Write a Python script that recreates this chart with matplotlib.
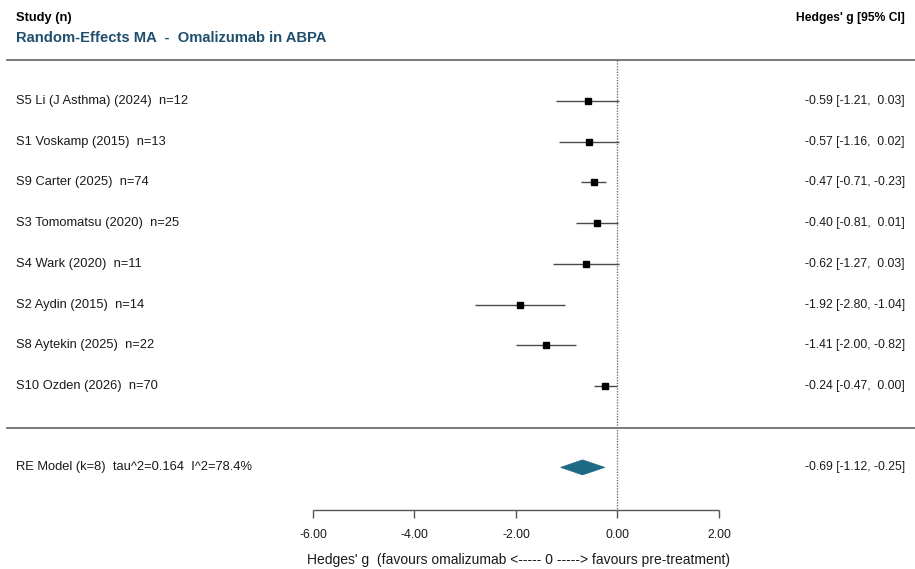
import matplotlib.pyplot as plt
import matplotlib.patches as mpatches

plt.rcParams['font.family'] = ['Liberation Sans', 'DejaVu Sans']

# Study data
studies = [
    "S5 Li (J Asthma) (2024)  n=12",
    "S1 Voskamp (2015)  n=13",
    "S9 Carter (2025)  n=74",
    "S3 Tomomatsu (2020)  n=25",
    "S4 Wark (2020)  n=11",
    "S2 Aydin (2015)  n=14",
    "S8 Aytekin (2025)  n=22",
    "S10 Ozden (2026)  n=70",
]
g = [-0.59, -0.57, -0.47, -0.40, -0.62, -1.92, -1.41, -0.24]
ci_low = [-1.21, -1.16, -0.71, -0.81, -1.27, -2.80, -2.00, -0.47]
ci_high = [0.03, 0.02, -0.23, 0.01, 0.03, -1.04, -0.82, 0.00]

# pooled random-effects estimate
re_label = "RE Model (k=8)  tau^2=0.164  I^2=78.4%"
re_g = -0.69
re_low = -1.12
re_high = -0.25

xticks = [-6, -4, -2, 0, 2]

TITLE_COLOR = "#1f4f6e"
DIAMOND_COLOR = "#1d6a87"
LINE_GREY = "#6e6e6e"
TXT = "#1a1a1a"


def fmt(v):
    return f"{v:5.2f}"


fig = plt.figure(figsize=(9.15, 5.69), dpi=100)
ax = fig.add_axes([0, 0, 1, 1])
ax.set_xlim(-12.167, 5.862)
ax.set_ylim(11.496, -2.481)
ax.axis('off')

# blended transform: x in axes fraction, y in rows
trans = ax.get_yaxis_transform()

# header
ax.text(0.0175, -2.04, "Study (n)", transform=trans, ha='left', va='center',
        fontsize=9.3, fontweight='bold', color='black')
ax.text(0.0175, -1.55, "Random-Effects MA  -  Omalizumab in ABPA", transform=trans,
        ha='left', va='center', fontsize=10.6, fontweight='bold', color=TITLE_COLOR)
ax.text(0.989, -2.04, "Hedges' g [95% CI]", transform=trans, ha='right', va='center',
        fontsize=8.7, fontweight='bold', color='black')

# separator lines
ax.plot([0.008, 1.0], [-1, -1], transform=trans, color=LINE_GREY, lw=1.3)
ax.plot([0.008, 1.0], [8.03, 8.03], transform=trans, color=LINE_GREY, lw=1.3)

# null line
ax.vlines(0, -1, 10.05, colors='#707070', linestyles=(0, (1, 1)), lw=1.0)

# study rows
for i, (name, est, lo, hi) in enumerate(zip(studies, g, ci_low, ci_high)):
    ax.hlines(i, lo, hi, colors='#4a4a4a', lw=1.0)
    ax.plot(est, i, marker='s', color='black', markersize=4.8, linestyle='none')
    ax.text(0.0175, i, name, transform=trans, ha='left', va='center',
            fontsize=9.3, color=TXT)
    ax.text(0.989, i, f"{fmt(est)} [{fmt(lo)}, {fmt(hi)}]", transform=trans,
            ha='right', va='center', fontsize=8.7, color=TXT)

# summary diamond
re_row = 9
diamond = mpatches.Polygon([[re_low, re_row], [re_g, re_row - 0.185],
                            [re_high, re_row], [re_g, re_row + 0.185]],
                           closed=True, facecolor=DIAMOND_COLOR, edgecolor=DIAMOND_COLOR, lw=0.5)
ax.add_patch(diamond)
ax.text(0.0175, re_row, re_label, transform=trans, ha='left', va='center',
        fontsize=9.3, color=TXT)
ax.text(0.989, re_row, f"{fmt(re_g)} [{fmt(re_low)}, {fmt(re_high)}]", transform=trans,
        ha='right', va='center', fontsize=8.7, color=TXT)

# x axis
axis_row = 10.05
ax.hlines(axis_row, min(xticks), max(xticks), colors='#555555', lw=1.0)
for t in xticks:
    ax.vlines(t, axis_row, axis_row + 0.19, colors='#555555', lw=1.0)
    ax.text(t, 10.66, f"{t:.2f}", ha='center', va='center', fontsize=8.7, color=TXT)
ax.text(-1.95, 11.27, "Hedges' g  (favours omalizumab <----- 0 -----> favours pre-treatment)",
        ha='center', va='center', fontsize=10, color=TXT)

fig.savefig("out.png", dpi=100)
